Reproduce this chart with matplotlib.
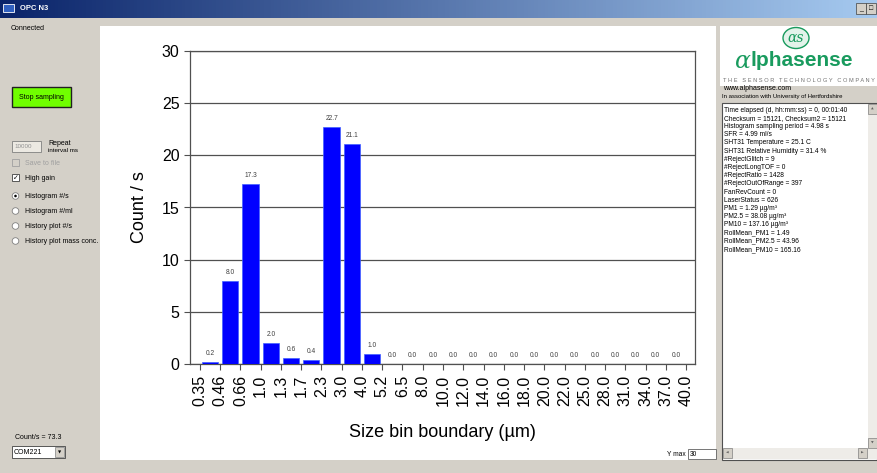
import numpy as np
import matplotlib
matplotlib.use('Agg')
import matplotlib.pyplot as plt
from matplotlib.patches import Rectangle, Ellipse, Circle
from matplotlib.colors import LinearSegmentedColormap

# histogram data
bin_edges = ['0.35', '0.46', '0.66', '1.0', '1.3', '1.7', '2.3', '3.0', '4.0', '5.2',
             '6.5', '8.0', '10.0', '12.0', '14.0', '16.0', '18.0', '20.0', '22.0',
             '25.0', '28.0', '31.0', '34.0', '37.0', '40.0']
counts = [0.2, 8.0, 17.3, 2.0, 0.6, 0.4, 22.7, 21.1, 1.0,
          0.0, 0.0, 0.0, 0.0, 0.0, 0.0, 0.0, 0.0, 0.0, 0.0, 0.0, 0.0, 0.0, 0.0, 0.0]
y_max = 30

info_lines = [
    'Time elapsed (d, hh:mm:ss) = 0, 00:01:40',
    'Checksum = 15121, Checksum2 = 15121',
    'Histogram sampling period = 4.98 s',
    'SFR = 4.99 ml/s',
    'SHT31 Temperature = 25.1 C',
    'SHT31 Relative Humidity = 31.4 %',
    '#RejectGlitch = 9',
    '#RejectLongTOF = 0',
    '#RejectRatio = 1428',
    '#RejectOutOfRange = 397',
    'FanRevCount = 0',
    'LaserStatus = 626',
    'PM1 = 1.29 \u00b5g/m\u00b3',
    'PM2.5 = 38.08 \u00b5g/m\u00b3',
    'PM10 = 137.16 \u00b5g/m\u00b3',
    'RollMean_PM1 = 1.49',
    'RollMean_PM2.5 = 43.96',
    'RollMean_PM10 = 165.16',
]
options = ['Histogram #/s', 'Histogram #/ml', 'History plot #/s', 'History plot mass conc.']

plt.rcParams['font.family'] = ['Liberation Sans', 'DejaVu Sans']

W, H = 877, 473
grey = '#D4D0C8'
fig = plt.figure(figsize=(W / 100, H / 100), dpi=100, facecolor=grey)

# window background drawn in pixel coords
bg = fig.add_axes([0, 0, 1, 1])
bg.axis('off')
cmap = LinearSegmentedColormap.from_list('title', ['#0A246A', '#A6CAF0'])
bg.imshow(np.linspace(0, 1, 256).reshape(1, -1), cmap=cmap, extent=(0, W, 18, 0), aspect='auto')
bg.set_xlim(0, W)
bg.set_ylim(H, 0)

bg.text(20, 9, 'OPC N3', color='white', fontsize=5.5, fontweight='bold', va='center')
bg.add_patch(Rectangle((3, 4), 11, 8, fc='#3060C0', ec='white', lw=0.6))
for bx, sym in [(856, '_'), (866, '\u25a1')]:
    bg.add_patch(Rectangle((bx, 3), 10, 11, fc=grey, ec='#404040', lw=0.5))
    bg.text(bx + 5, 9, sym, fontsize=5, ha='center', va='center')

# white chart area
bg.add_patch(Rectangle((100, 26), 616, 434, fc='white', ec='none'))

# left panel
bg.text(11, 28, 'Connected', fontsize=5, va='center')
bg.add_patch(Rectangle((12, 87), 59, 20, fc='#70FF00', ec='#202020', lw=1))
bg.text(41.5, 97, 'Stop sampling', fontsize=5, ha='center', va='center')
bg.add_patch(Rectangle((12, 141), 29, 11, fc='#ECE9E2', ec='#808080', lw=0.6))
bg.text(14, 146.5, '10000', fontsize=4.5, color='#909090', va='center')
bg.text(48, 143, 'Repeat', fontsize=5, va='center')
bg.text(48, 150, 'interval ms', fontsize=4.5, va='center')
bg.add_patch(Rectangle((12, 159), 7, 7, fc=grey, ec='#A0A0A0', lw=0.6))
bg.text(25, 163, 'Save to file', fontsize=5, color='#A0A0A0', va='center')
bg.add_patch(Rectangle((12, 174), 7, 7, fc='white', ec='#404040', lw=0.6))
bg.text(15.5, 177.5, '\u2713', fontsize=5, ha='center', va='center', family='DejaVu Sans')
bg.text(25, 178, 'High gain', fontsize=5, va='center')
for k, opt in enumerate(options):
    yy = 196 + k * 15
    bg.add_patch(Circle((15.5, yy), 3.3, fc='white', ec='#808080', lw=0.6))
    if k == 0:
        bg.add_patch(Circle((15.5, yy), 1.3, fc='black', ec='none'))
    bg.text(25, yy, opt, fontsize=5, va='center')

bg.text(15, 437, 'Count/s = 73.3', fontsize=5, va='center')
bg.add_patch(Rectangle((12, 446), 53, 12, fc='white', ec='#404040', lw=0.6))
bg.add_patch(Rectangle((55, 447), 9, 10, fc=grey, ec='#808080', lw=0.5))
bg.text(59.5, 452, '\u25bc', fontsize=3, ha='center', va='center', family='DejaVu Sans')
bg.text(14, 452, 'COM221', fontsize=5, va='center')

# y max box
bg.text(686, 454, 'Y max', fontsize=4.8, ha='right', va='center')
bg.add_patch(Rectangle((688, 449), 28, 10, fc='white', ec='#606060', lw=0.6))
bg.text(690, 454, str(y_max), fontsize=4.8, va='center')

# right panel
bg.add_patch(Rectangle((720, 26), 157, 60, fc='white', ec='none'))
green = '#199B5E'
bg.add_patch(Ellipse((796, 38), 26, 21, fc='#E3F3EA', ec=green, lw=1))
bg.text(796, 38.5, '\u03b1s', fontsize=10, color=green, ha='center', va='center',
        style='italic', family='DejaVu Serif')
bg.text(750.5, 61, '\u03b1', fontsize=17, color=green, ha='right', va='center',
        style='italic', family='DejaVu Serif')
bg.text(750.5, 61, 'lphasense', fontsize=15, color=green, ha='left', va='center',
        fontweight='bold')
bg.text(799, 80, 'T H E   S E N S O R   T E C H N O L O G Y   C O M P A N Y',
        fontsize=4.1, color='#707070', ha='center', va='center')
bg.text(723, 88, 'www.alphasense.com', fontsize=5, va='center')
bg.text(722, 96.5, 'In association with University of Hertfordshire', fontsize=4.3, va='center')

bg.add_patch(Rectangle((722, 103), 155, 357, fc='white', ec='#505050', lw=0.8))
bg.add_patch(Rectangle((868, 104), 9, 344, fc='#EEECE8', ec='none'))
bg.add_patch(Rectangle((723, 448), 154, 11, fc='#EEECE8', ec='none'))
for (rx, ry, sym) in [(868, 104, '\u25b2'), (868, 438, '\u25bc'), (723, 448, '\u25c0'), (858, 448, '\u25b6')]:
    bg.add_patch(Rectangle((rx, ry), 9, 10, fc=grey, ec='#808080', lw=0.5))
    bg.text(rx + 4.5, ry + 5, sym, fontsize=2.5, color='#606060', ha='center', va='center',
            family='DejaVu Sans')
for k, line in enumerate(info_lines):
    bg.text(724, 110 + k * 8.2, line, fontsize=4.8, va='center')

# histogram
ax = fig.add_axes([190 / W, 1 - 364 / H, (695 - 190) / W, (364 - 51) / H])
ax.set_zorder(2)
ax.set_facecolor('white')
xpos = np.arange(len(counts)) + 0.5
ax.bar(xpos, counts, width=0.8, color='#0000FF', edgecolor='#4060FF', linewidth=0.5, zorder=3)
for xp, v in zip(xpos, counts):
    ax.text(xp, v + 0.45, f'{v:.1f}', fontsize=4.8, color='#404040', ha='center', va='bottom')

ax.set_xlim(-0.49, len(bin_edges) - 1 + 0.44)
ax.set_ylim(0, y_max)
ax.set_xticks(np.arange(len(bin_edges)))
ax.set_xticklabels(bin_edges, rotation=90, fontsize=11.5)
ax.set_yticks(np.arange(0, y_max + 1, 5))
ax.tick_params(axis='y', labelsize=11.5, length=4.5, width=0.8, color='#505050', pad=3)
ax.tick_params(axis='x', length=4, width=0.8, color='#505050', pad=4)
ax.yaxis.grid(True, color='#505050', linewidth=0.9, zorder=0)
ax.set_axisbelow(True)
for s in ax.spines.values():
    s.set_color('#505050')
    s.set_linewidth(0.9)
ax.set_xlabel('Size bin boundary (\u00b5m)', fontsize=13, labelpad=13)
ax.set_ylabel('Count / s', fontsize=13, labelpad=10)

fig.savefig('out.png', dpi=100, facecolor=grey)
